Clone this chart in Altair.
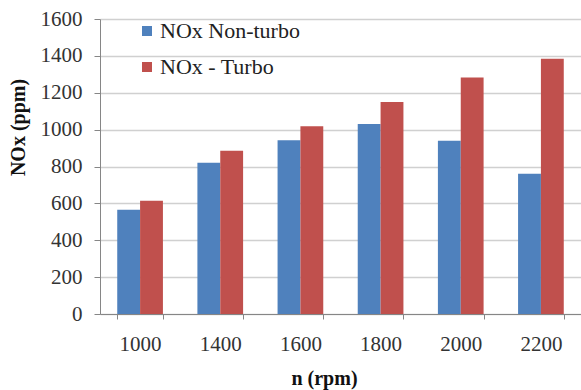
import altair as alt
import pandas as pd

rpm = ["1000", "1400", "1600", "1800", "2000", "2200"]
non_turbo = [565, 820, 942, 1031, 940, 761]
turbo = [614, 885, 1018, 1150, 1283, 1384]
series = ["NOx Non-turbo", "NOx - Turbo"]
colors = ["#4F81BD", "#C0504D"]

rows = []
for i, r in enumerate(rpm):
    rows.append({"rpm": r, "series": series[0], "value": non_turbo[i]})
    rows.append({"rpm": r, "series": series[1], "value": turbo[i]})
df = pd.DataFrame(rows)

FONT = "Liberation Serif"

chart = (
    alt.Chart(df)
    .mark_bar()
    .encode(
        x=alt.X(
            "rpm:N",
            sort=rpm,
            title="n (rpm)",
            scale=alt.Scale(paddingInner=0.43, paddingOuter=0.215),
            axis=alt.Axis(
                labelAngle=0,
                tickBand="extent",
                tickSize=5,
                labelPadding=14,
                titlePadding=14,
                titleX=224,
                domainColor="#868686",
                tickColor="#868686",
            ),
        ),
        xOffset=alt.XOffset("series:N", sort=series),
        y=alt.Y(
            "value:Q",
            title="NOx (ppm)",
            scale=alt.Scale(domain=[0, 1600], nice=False),
            axis=alt.Axis(
                values=[0, 200, 400, 600, 800, 1000, 1200, 1400, 1600],
                format="d",
                tickSize=6,
                labelPadding=12,
                titlePadding=12,
                titleY=108,
                domainColor="#868686",
                tickColor="#868686",
                gridColor="#D0D0D0",
                gridWidth=1.5,
            ),
        ),
        color=alt.Color(
            "series:N",
            sort=series,
            scale=alt.Scale(domain=series, range=colors),
            legend=alt.Legend(
                title=None,
                orient="none",
                legendX=36,
                legendY=1,
                symbolType="square",
                symbolSize=100,
                symbolStrokeWidth=0,
                labelOffset=2,
                rowPadding=14,
            ),
        ),
    )
    .properties(
        width=481,
        height=295,
        autosize=alt.AutoSizeParams(type="none"),
        padding={"left": 100, "top": 19, "right": 0, "bottom": 76},
    )
    .configure(font=FONT)
    .configure_axis(
        labelFont=FONT,
        titleFont=FONT,
        labelFontSize=21,
        labelColor="#333333",
        titleFontSize=20,
        titleFontWeight="bold",
        titleColor="#111111",
    )
    .configure_legend(
        labelFont=FONT,
        labelFontSize=22,
        labelColor="#222222",
        labelLimit=300,
    )
    .configure_view(stroke=None)
    .configure_axisX(grid=False)
)

chart.save("out.html", embed_options={"renderer": "svg", "actions": False})
